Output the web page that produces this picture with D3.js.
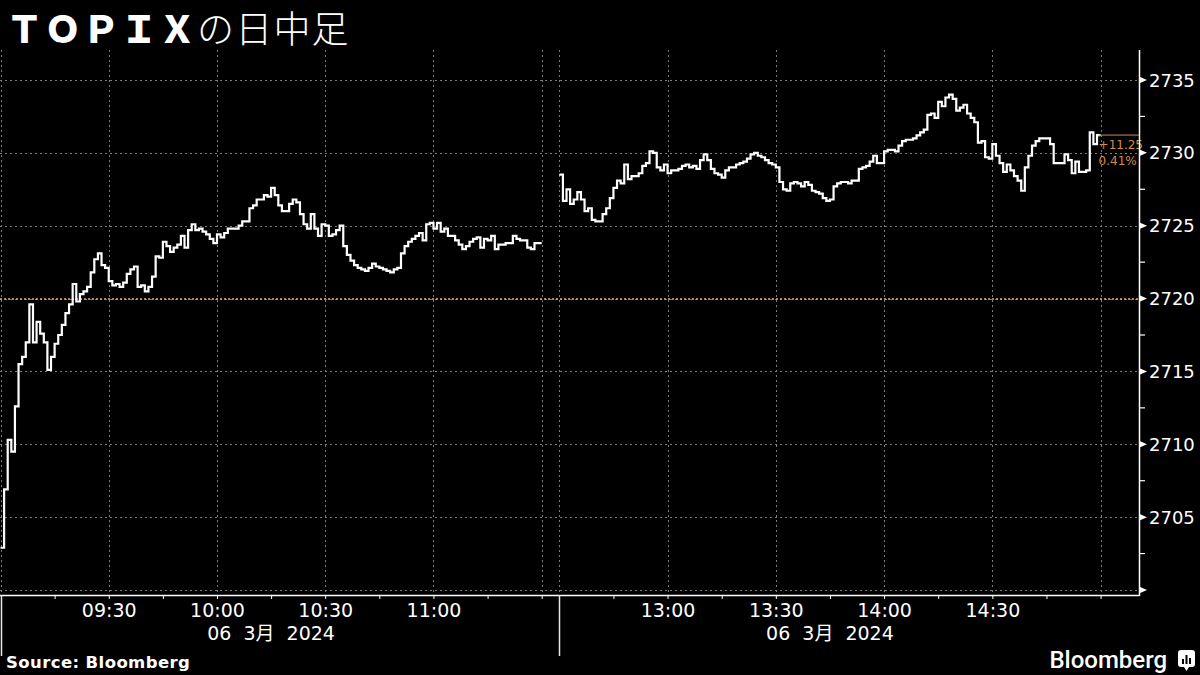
<!DOCTYPE html>
<html>
<head>
<meta charset="utf-8">
<script src="https://cdn.jsdelivr.net/npm/d3@7"></script>
<style>
  html, body { margin: 0; padding: 0; background: #000; }
  svg { display: block; }
</style>
</head>
<body>
<div id="chart"></div>
<script>
// sessions (hour, minute)
const morningSession = [[9, 0], [11, 30]];
const afternoonSession = [[12, 30], [15, 0]];

// one close per minute
const morningValues = [
  2702.9, 2706.9, 2710.3, 2709.5, 2712.6, 2715.5, 2716.0, 2717.0, 2719.6, 2717.0,
  2718.4, 2717.6, 2717.0, 2715.1, 2716.0, 2716.9, 2717.5, 2718.2, 2719.0, 2719.6,
  2721.0, 2719.8, 2720.3, 2720.5, 2720.8, 2721.8, 2722.7, 2723.1, 2722.3, 2722.1,
  2721.2, 2720.9, 2721.0, 2720.8, 2721.1, 2721.7, 2722.0, 2722.2, 2720.8, 2720.9,
  2720.5, 2720.8, 2721.5, 2722.9, 2722.8, 2723.9, 2723.6, 2723.2, 2723.5, 2723.7,
  2724.3, 2723.5, 2724.7, 2725.1, 2724.7, 2724.8, 2724.6, 2724.4, 2724.1, 2723.8,
  2724.4, 2724.2, 2724.5, 2724.8, 2724.8, 2724.8, 2725.0, 2725.3, 2725.3, 2726.2,
  2726.4, 2726.8, 2726.8, 2727.1, 2727.0, 2727.6, 2727.1, 2726.4, 2726.0, 2726.0,
  2726.5, 2726.8, 2726.6, 2725.8, 2725.1, 2724.8, 2725.8, 2724.8, 2724.3, 2725.1,
  2725.0, 2724.3, 2724.4, 2724.7, 2725.0, 2723.6, 2723.0, 2722.6, 2722.3, 2722.1,
  2722.0, 2721.9, 2722.1, 2722.4, 2722.2, 2722.1, 2722.0, 2721.9, 2721.8, 2722.0,
  2722.1, 2723.1, 2723.6, 2723.9, 2724.1, 2724.3, 2724.5, 2724.0, 2725.1, 2725.2,
  2724.8, 2725.2, 2724.6, 2724.8, 2724.3, 2724.3, 2724.0, 2723.7, 2723.4, 2723.6,
  2723.9, 2724.1, 2724.2, 2723.5, 2724.1, 2724.0, 2724.3, 2723.4, 2723.7, 2723.7,
  2723.8, 2723.8, 2724.3, 2724.1, 2724.0, 2724.0, 2723.5, 2723.4, 2723.8, 2723.8
];
const afternoonValues = [
  2728.5, 2726.7, 2727.5, 2726.5, 2726.8, 2727.3, 2726.8, 2726.0, 2726.2, 2725.4,
  2725.3, 2725.3, 2725.8, 2726.2, 2726.9, 2727.6, 2728.1, 2727.9, 2729.2, 2728.2,
  2728.4, 2728.4, 2728.6, 2729.1, 2729.3, 2730.1, 2730.0, 2729.0, 2728.8, 2729.2,
  2728.6, 2728.8, 2728.8, 2728.9, 2729.1, 2729.2, 2729.0, 2729.1, 2728.9, 2729.5,
  2729.9, 2729.5, 2728.9, 2728.6, 2728.5, 2728.3, 2728.8, 2729.0, 2729.0, 2729.2,
  2729.3, 2729.4, 2729.6, 2729.9, 2730.0, 2729.8, 2729.7, 2729.5, 2729.3, 2729.2,
  2729.0, 2728.0, 2727.5, 2727.4, 2727.9, 2728.0, 2727.9, 2727.7, 2728.0, 2727.8,
  2727.4, 2727.3, 2727.2, 2726.9, 2726.7, 2726.8, 2727.7, 2727.9, 2728.0, 2728.0,
  2727.9, 2728.1, 2728.1, 2728.9, 2729.0, 2729.1, 2729.4, 2729.8, 2729.3, 2729.3,
  2730.1, 2730.2, 2730.2, 2730.1, 2730.5, 2730.8, 2730.9, 2730.9, 2731.0, 2731.2,
  2731.4, 2731.6, 2732.6, 2732.7, 2732.4, 2733.5, 2733.2, 2733.8, 2734.0, 2733.7,
  2732.9, 2733.1, 2733.3, 2732.7, 2732.4, 2732.1, 2730.7, 2730.8, 2729.7, 2729.6,
  2730.6, 2729.8, 2729.3, 2728.7, 2729.2, 2728.8, 2728.4, 2728.1, 2727.4, 2729.0,
  2729.8, 2730.5, 2730.8, 2731.0, 2731.0, 2731.0, 2730.6, 2729.3, 2729.3, 2729.3,
  2729.9, 2729.5, 2728.6, 2729.4, 2728.7, 2728.7, 2728.8, 2731.4, 2730.6, 2731.22
];

const prevClose = 2719.97;
const yTicks = [2700, 2705, 2710, 2715, 2720, 2725, 2730, 2735];
const yMinorTicks = [2702.5, 2707.5, 2712.5, 2717.5, 2722.5, 2727.5, 2732.5];
const changeLabels = ['+11.25', '0.41%'];
const dateLabel = '06 3月 2024';
const titleLatin = 'ＴＯＰＩＸ';
const titleKana = 'の日中足';
const sourceLabel = 'Source: Bloomberg';

const width = 1200, height = 675;
const plot = {left: 0, right: 1139, top: 50, bottom: 595};

const t = (hm) => new Date(2024, 2, 6, hm[0], hm[1]);
const addMin = (d, m) => new Date(d.getTime() + m * 60000);

const svg = d3.select('#chart').append('svg')
    .attr('width', width)
    .attr('height', height)
    .style('background', '#000');

// broken time scale: lunch break squeezed into a narrow gap
const x = d3.scaleTime()
    .domain([t(morningSession[0]), t(morningSession[1]), t(afternoonSession[0]), t(afternoonSession[1])])
    .range([0.5, 541.7, 559.3, 1100.6]);

const y = d3.scaleLinear()
    .domain([2700, 2735])
    .range([590, 80]);

// grid
const gridTimes = [];
[morningSession, afternoonSession].forEach(s => {
  for (let d = t(s[0]); d <= t(s[1]); d = addMin(d, 30)) gridTimes.push(d);
});

svg.append('g')
  .selectAll('line')
  .data(gridTimes)
  .join('line')
    .attr('x1', d => Math.round(x(d)) + 0.5)
    .attr('x2', d => Math.round(x(d)) + 0.5)
    .attr('y1', plot.top)
    .attr('y2', plot.bottom)
    .attr('stroke', '#7a7a7a')
    .attr('stroke-width', 1)
    .attr('stroke-dasharray', '2,3');

svg.append('g')
  .selectAll('line')
  .data(yTicks)
  .join('line')
    .attr('x1', plot.left)
    .attr('x2', plot.right)
    .attr('y1', d => Math.round(y(d)) + 0.5)
    .attr('y2', d => Math.round(y(d)) + 0.5)
    .attr('stroke', '#7a7a7a')
    .attr('stroke-width', 1)
    .attr('stroke-dasharray', '2,3');

// previous close
svg.append('line')
    .attr('x1', plot.left)
    .attr('x2', plot.right)
    .attr('y1', y(prevClose))
    .attr('y2', y(prevClose))
    .attr('stroke', '#f2a77c')
    .attr('stroke-width', 1.3)
    .attr('stroke-dasharray', '2,2');

// price line
const toPoints = (session, values) => {
  const start = t(session[0]);
  const pts = values.map((v, i) => ({time: addMin(start, i), value: v}));
  pts.push({time: t(session[1]), value: values[values.length - 1]});
  return pts;
};

const line = d3.line()
    .x(d => x(d.time))
    .y(d => y(d.value))
    .curve(d3.curveStepAfter);

svg.append('g')
  .selectAll('path')
  .data([toPoints(morningSession, morningValues), toPoints(afternoonSession, afternoonValues)])
  .join('path')
    .attr('d', line)
    .attr('fill', 'none')
    .attr('stroke', '#fff')
    .attr('stroke-width', 2.2)
    .attr('stroke-linejoin', 'miter');

// last price marker
const lastValue = afternoonValues[afternoonValues.length - 1];
const lastX = x(t(afternoonSession[1]));
svg.append('line')
    .attr('x1', lastX - 2)
    .attr('x2', plot.right)
    .attr('y1', y(lastValue))
    .attr('y2', y(lastValue))
    .attr('stroke', '#c98a55')
    .attr('stroke-width', 1);

svg.append('g')
    .attr('font-family', 'DejaVu Sans, sans-serif')
    .attr('font-size', 12)
    .attr('fill', '#d58e48')
  .selectAll('text')
  .data(changeLabels)
  .join('text')
    .attr('x', lastX - 2)
    .attr('y', (d, i) => y(lastValue) + 10 + i * 16)
    .attr('dominant-baseline', 'middle')
    .text(d => d);

// x axis
const tickTimes = [];
[morningSession, afternoonSession].forEach(s => {
  for (let d = addMin(t(s[0]), 15); d <= t(s[1]); d = addMin(d, 15)) tickTimes.push(d);
});
const labelled = d => d.getMinutes() % 30 === 0 &&
  +d !== +t(morningSession[1]) && +d !== +t(afternoonSession[1]);
const fmt = d3.timeFormat('%H:%M');

const xAxis = svg.append('g')
    .attr('transform', `translate(0,${plot.bottom})`)
    .call(d3.axisBottom(x)
      .tickValues(tickTimes)
      .tickSize(4)
      .tickPadding(5)
      .tickFormat(d => labelled(d) ? fmt(d) : ''));
xAxis.select('.domain').remove();
xAxis.selectAll('.tick line').attr('stroke', '#fff');
xAxis.selectAll('.tick text')
    .attr('fill', '#fff')
    .attr('font-family', 'DejaVu Sans, sans-serif')
    .attr('font-size', 19);

svg.append('line')
    .attr('x1', 0).attr('x2', plot.right + 0.5)
    .attr('y1', plot.bottom + 0.5).attr('y2', plot.bottom + 0.5)
    .attr('stroke', '#fff').attr('stroke-width', 1.5);

// session separators and date labels
[morningSession, afternoonSession].forEach(s => {
  const x0 = Math.max(0.75, Math.round(x(t(s[0]))) + 0.5);
  svg.append('line')
      .attr('x1', x0).attr('x2', x0)
      .attr('y1', plot.bottom).attr('y2', 656)
      .attr('stroke', '#e6e6e6').attr('stroke-width', 1.5);
  svg.append('text')
      .attr('x', (x(t(s[0])) + x(t(s[1]))) / 2)
      .attr('y', 640)
      .attr('text-anchor', 'middle')
      .attr('fill', '#fff')
      .attr('font-family', 'DejaVu Sans, "Noto Sans CJK JP", sans-serif')
      .attr('font-size', 19)
      .attr('word-spacing', 6)
      .text(dateLabel);
});

// y axis
svg.append('line')
    .attr('x1', plot.right + 0.5).attr('x2', plot.right + 0.5)
    .attr('y1', plot.top).attr('y2', plot.bottom + 1)
    .attr('stroke', '#fff').attr('stroke-width', 1.5);

svg.append('g')
  .selectAll('line')
  .data(yMinorTicks)
  .join('line')
    .attr('x1', plot.right).attr('x2', plot.right + 6)
    .attr('y1', d => y(d)).attr('y2', d => y(d))
    .attr('stroke', '#fff').attr('stroke-width', 1.2);

svg.append('g')
  .selectAll('path')
  .data(yTicks)
  .join('path')
    .attr('d', d => `M${plot.right},${y(d) - 3.5}L${plot.right + 8},${y(d)}L${plot.right},${y(d) + 3.5}Z`)
    .attr('fill', '#fff');

svg.append('g')
    .attr('font-family', 'DejaVu Sans, sans-serif')
    .attr('font-size', 18)
    .attr('fill', '#fff')
  .selectAll('text')
  .data(yTicks.filter(d => d > y.domain()[0]))
  .join('text')
    .attr('x', plot.right + 10)
    .attr('y', d => y(d))
    .attr('dominant-baseline', 'central')
    .text(d => d);

// title
const title = svg.append('text')
    .attr('x', 6)
    .attr('y', 43)
    .attr('fill', '#fff')
    .attr('font-family', '"Noto Sans CJK JP", sans-serif')
    .attr('font-size', 37)
    .attr('letter-spacing', 1.2);
title.append('tspan').attr('font-weight', 900).text(titleLatin);
title.append('tspan').attr('font-weight', 300).text(titleKana);

// footer
svg.append('text')
    .attr('x', 6)
    .attr('y', 668)
    .attr('fill', '#fff')
    .attr('font-family', 'DejaVu Sans, sans-serif')
    .attr('font-weight', 'bold')
    .attr('font-size', 16.5)
    .attr('letter-spacing', 0.4)
    .text(sourceLabel);

svg.append('text')
    .attr('x', 1167)
    .attr('y', 668)
    .attr('text-anchor', 'end')
    .attr('fill', '#fff')
    .attr('font-family', 'Roboto, sans-serif')
    .attr('font-weight', 500)
    .attr('font-size', 24)
    .text('Bloomberg');

const logo = svg.append('g').attr('transform', 'translate(1178,650)');
logo.append('rect')
    .attr('width', 17).attr('height', 17).attr('rx', 3)
    .attr('fill', '#fff');
logo.append('path')
    .attr('d', 'M6,17L8.5,21L11,17Z')
    .attr('fill', '#fff');
[[4, 9, 5], [7.5, 5, 9], [11, 8, 6]].forEach(b => {
  logo.append('rect')
      .attr('x', b[0]).attr('y', b[1])
      .attr('width', 2).attr('height', b[2])
      .attr('fill', '#000');
});
</script>
</body>
</html>
